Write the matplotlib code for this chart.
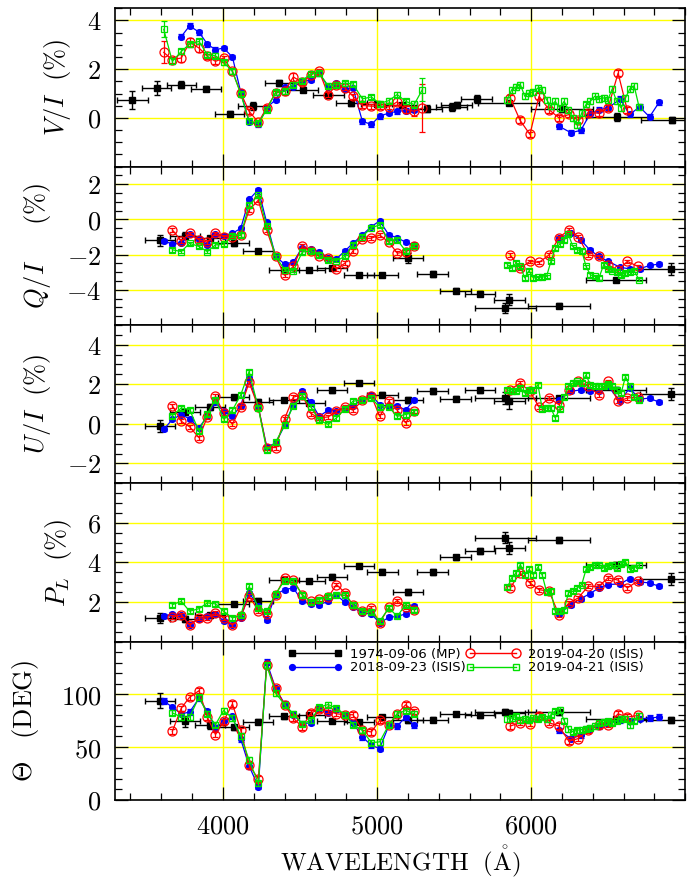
import numpy as np
import matplotlib
matplotlib.use("Agg")
import matplotlib.pyplot as plt
from matplotlib.ticker import FixedLocator, MultipleLocator, FuncFormatter
from matplotlib.lines import Line2D

nan = np.nan

plt.rcParams['mathtext.fontset'] = 'cm'
plt.rcParams['font.family'] = 'DejaVu Serif'

# ---------------- 1974-09-06, multichannel photometer (MP) ----------------
# circular polarization bins
mp_v_wl = [3412, 3571, 3730, 3890, 4043, 4198, 4366, 4519, 4685, 4833,
           4999, 5161, 5323, 5484, 5517, 5646, 5853, 6202, 6557, 6913]
mp_v_dwl = [100, 94, 95, 97, 97, 100, 96, 100, 100, 100,
            100, 100, 100, 100, 100, 100, 200, 200, 200, 200]
mp_v = [0.72, 1.23, 1.37, 1.19, 0.18, 0.49, 1.42, 1.16, 0.93, 0.60,
        0.57, 0.52, 0.38, 0.45, 0.53, 0.78, 0.61, 0.37, 0.04, -0.07]
mp_v_err = [0.37, 0.27, 0.15, 0.10, 0.10, 0.15, 0.13, 0.10, 0.13, 0.12,
            0.10, 0.10, 0.15, 0.15, 0.12, 0.15, 0.10, 0.12, 0.15, 0.12]

# linear polarization bins
mp_wl = [3590, 3752, 3914, 4069, 4230, 4394, 4560, 4709, 4883, 5034,
         5200, 5362, 5510, 5668, 5859, 5831, 6180, 6551, 6906]
mp_dwl = [98, 97, 97, 100, 97, 98, 100, 97, 100, 99,
          99, 100, 99, 98, 99, 198, 200, 197, 200]
mp_q = [-1.19, -0.94, -1.07, -1.36, -1.79, -2.88, -2.88, -2.77, -3.15, -3.18,
        -2.20, -3.11, -4.05, -4.22, -4.56, -5.03, -4.90, -3.43, -2.81]
mp_q_err = [0.30, 0.20, 0.15, 0.15, 0.12, 0.15, 0.12, 0.12, 0.12, 0.12,
            0.28, 0.15, 0.12, 0.15, 0.33, 0.30, 0.12, 0.12, 0.33]
mp_u = [-0.12, 0.62, 0.85, 1.34, 1.12, 1.20, 1.05, 1.69, 2.07, 1.47,
        1.22, 1.64, 1.27, 1.69, 1.17, 1.32, 1.30, 1.72, 1.52]
mp_u_err = [0.30, 0.15, 0.15, 0.12, 0.12, 0.12, 0.12, 0.12, 0.12, 0.12,
            0.15, 0.15, 0.12, 0.12, 0.42, 0.30, 0.12, 0.12, 0.30]
mp_p = [1.19, 1.16, 1.32, 1.90, 2.07, 3.11, 3.06, 3.27, 3.82, 3.52,
        2.51, 3.50, 4.26, 4.58, 4.73, 5.24, 5.12, 3.86, 3.15]
mp_p_err = [0.25, 0.15, 0.12, 0.12, 0.12, 0.15, 0.12, 0.12, 0.12, 0.12,
            0.15, 0.15, 0.12, 0.15, 0.30, 0.28, 0.15, 0.15, 0.30]
mp_th = [94.0, 74.3, 70.5, 68.7, 74.0, 79.0, 79.9, 74.6, 73.4, 78.4,
         75.5, 75.9, 81.5, 79.9, 82.5, 83.1, 82.8, 76.8, 75.9]
mp_th_err = [7, 5, 3, 2.5, 2.5, 2, 2, 2, 2, 2,
             2.5, 2.5, 2, 2, 3, 3, 2, 2, 3]

# ---------------- ISIS spectropolarimetry ----------------
# blue arm (shared by all three nights)
wl_blue = [3616, 3672, 3730, 3784, 3845, 3899, 3952, 4004, 4062, 4116,
           4170, 4230, 4284, 4342, 4400, 4457, 4515, 4571, 4625, 4683,
           4737, 4792, 4844, 4905, 4963, 5017, 5077, 5131, 5185, 5241]
wl_blue_v = wl_blue + [5294]
# red arm, per night
wl_red_0923 = [6180, 6258, 6322, 6380, 6440, 6500, 6578, 6638, 6704, 6768, 6830]
wl_red_0420 = [5864, 5928, 5992, 6051, 6116, 6180, 6245, 6305, 6370, 6439,
               6499, 6564, 6624, 6691]
wl_red_0421 = [5846, 5874, 5902, 5930, 5958, 5986, 6014, 6044, 6072, 6100,
               6128, 6156, 6186, 6214, 6242, 6270, 6300, 6328, 6356, 6384,
               6412, 6440, 6470, 6498, 6526, 6554, 6584, 6612, 6640, 6668, 6700]

# V/I (%)
v_0923_b = [nan, nan, 3.34, 3.78, 3.52, 3.03, 2.80, 2.87, 2.50, 1.05,
            -0.16, -0.27, 0.41, 0.75, 1.26, 1.27, 1.50, 1.57, 1.84, 1.27,
            1.43, 1.19, 1.23, -0.14, -0.27, 0.07, 0.20, 0.27, 0.30, 0.34, nan]
v_0923_r = [-0.34, -0.61, -0.51, 0.14, 0.34, 0.41, 0.78, 0.14, 0.45, 0.04, 0.64]
v_0420_b = [2.69, 2.39, 2.46, 3.10, 2.87, 2.53, 2.32, 2.46, 1.91, 1.02,
            0.27, -0.18, 0.41, 1.02, 1.09, 1.68, 1.46, 1.77, 1.91, 0.96,
            1.34, 1.23, 0.89, 0.51, 0.48, 0.48, 0.45, 0.66, 0.35, 0.27, 0.41]
v_0420_b_err = [0.45, 0.12, 0.15, 0.20, 0.15, 0.10, 0.10, 0.10, 0.10, 0.10,
                0.10, 0.10, 0.10, 0.10, 0.15, 0.15, 0.10, 0.10, 0.10, 0.10,
                0.10, 0.10, 0.10, 0.10, 0.10, 0.10, 0.10, 0.15, 0.15, 0.20, 0.97]
v_0420_r = [0.82, -0.10, -0.68, 0.89, 0.34, 0.00, 0.14, -0.10, 0.20, 0.20,
            0.41, 1.84, 0.31, nan]
v_0421_b = [3.64, 2.32, 2.73, 3.03, 3.14, 2.59, 2.55, 2.29, 1.91, 0.98,
            -0.14, -0.23, 0.34, 1.05, 1.09, 1.37, 1.53, 1.82, 1.84, 1.32,
            1.37, 1.43, 1.39, 0.78, 0.86, 0.59, 0.71, 0.96, 0.68, 0.55, 1.16]
v_0421_b_err = [0.33, 0.12, 0.10, 0.10, 0.10, 0.10, 0.10, 0.10, 0.10, 0.10,
                0.10, 0.10, 0.10, 0.10, 0.10, 0.10, 0.10, 0.10, 0.10, 0.10,
                0.10, 0.10, 0.10, 0.10, 0.10, 0.10, 0.10, 0.10, 0.10, 0.15, 0.47]
v_0421_r = [0.75, 1.16, 1.27, 1.37, 0.89, 1.02, 1.05, 1.23, 1.13, 0.75,
            0.48, 0.68, 0.41, 0.68, 0.34, 0.00, -0.31, 0.20, 0.55, 0.68,
            0.89, 0.78, 0.82, 0.75, 1.19, 0.68, 0.41, 0.82, 1.19, 1.32, 0.45]

# Q/I (%)
q_0923_b = [-1.22, -1.41, -1.36, -0.85, -1.11, -1.45, -0.85, -0.92, -0.79, -0.51,
            1.13, 1.69, -0.17, -2.11, -2.54, -2.43, -1.60, -1.69, -1.86, -2.17,
            -2.24, -1.79, -1.36, -0.89, -0.41, -0.09, -0.89, -1.04, -1.30, -1.45]
q_0923_r = [-1.07, -0.79, -1.17, -1.73, -2.11, -2.39, -2.73, -2.81, -2.81, -2.62, -2.54]
q_0420_b = [nan, -0.60, -1.22, -0.79, -1.17, -1.30, -0.79, -0.98, -0.98, -0.89,
            0.53, 1.09, -0.60, -2.11, -3.18, -2.67, -1.51, -1.79, -2.11, -2.20,
            -2.81, -2.49, -1.79, -1.11, -1.07, -0.89, -1.30, -1.92, -1.86, -1.54]
q_0420_r = [-2.02, -2.77, -2.39, -2.45, -2.02, -1.04, -0.60, -0.98, -2.02, -2.11,
            -2.58, -2.90, -2.39, -2.67]
q_0421_b = [nan, -1.73, -1.83, -1.36, -1.54, -1.83, -1.45, -1.41, -0.92, -0.89,
            0.81, 1.37, -0.36, -2.11, -2.86, -2.92, -1.86, -1.79, -2.02, -2.30,
            -2.35, -2.11, -1.45, -0.98, -0.47, -0.32, -1.22, -1.17, -1.79, -1.49]
q_0421_r = [-2.58, -2.77, -2.49, -2.67, -3.33, -2.92, -3.33, -3.30, -3.28, -3.24,
            -2.39, -1.64, -1.41, -1.17, -0.85, -1.54, -1.73, -1.79, -2.67, -3.15,
            -3.24, -3.33, -2.58, -2.81, -2.92, -2.99, -3.15, -3.05, -2.99, -2.92, -3.43]

# U/I (%)
u_0923_b = [-0.28, 0.22, 0.47, 0.25, -0.20, 0.38, 1.09, 0.64, 0.38, 0.92,
            2.31, 0.85, -1.15, -0.99, -0.08, 0.97, 1.64, 1.09, 0.38, 0.69,
            0.64, 0.80, 0.92, 1.22, 1.47, 0.97, 0.89, 0.92, 0.69, 1.22]
u_0923_r = [1.22, 1.64, 1.72, 1.64, 1.64, 1.89, 1.14, 1.81, 1.25, 1.30, 1.09]
u_0420_b = [nan, 0.92, 0.13, -0.15, -0.70, 0.35, 1.39, 0.55, -0.03, 0.85,
            2.09, 0.85, -1.20, -1.20, 0.25, 1.35, 1.47, 0.52, 0.30, 0.35,
            0.64, 0.85, 0.69, 1.19, 1.42, 0.38, 1.14, 0.69, 0.05, 0.64]
u_0420_r = [1.72, 2.06, 1.64, 0.85, 1.30, 0.97, 1.72, 2.14, 1.89, 1.47,
            2.14, 1.14, 1.30, 1.35]
u_0421_b = [nan, 0.42, 0.80, 0.72, -0.37, 0.52, 1.22, 0.25, 0.69, 1.47,
            2.64, 0.80, -1.32, -0.92, -0.08, 0.92, 1.39, 0.85, 0.18, -0.03,
            0.30, 0.75, 1.14, 1.22, 1.30, 0.85, 0.85, 0.38, 0.47, 0.59]
u_0421_r = [1.72, 1.64, 1.64, 1.81, 1.56, 1.72, 1.72, 1.97, 0.75, 0.80,
            0.80, 0.30, 0.75, 1.35, 1.89, 2.06, 2.14, 2.06, 2.47, 1.97,
            1.89, 1.92, 1.89, 2.02, 1.89, 1.72, 1.56, 2.39, 1.89, 1.35, 1.22]

# P_L (%)
p_0923_b = [1.27, 1.39, 1.36, 0.85, 1.16, 1.27, 1.39, 1.05, 0.85, 1.19,
            2.46, 1.78, 1.11, 2.37, 2.62, 2.71, 2.03, 1.90, 1.86, 2.03,
            2.34, 1.98, 1.73, 1.44, 1.39, 0.94, 1.22, 1.27, 1.39, 1.78]
p_0923_r = [1.39, 1.86, 2.17, 2.41, 2.71, 2.88, 2.91, 3.18, 3.01, 2.96, 2.79]
p_0420_b = [nan, 1.22, 1.36, 0.82, 1.19, 1.19, 1.44, 1.19, 0.82, 1.27,
            2.29, 1.56, 1.39, 2.34, 3.22, 3.13, 2.34, 2.03, 2.17, 2.24,
            2.88, 2.46, 1.83, 1.53, 1.70, 0.94, 1.73, 2.07, 1.73, 1.61]
p_0420_r = [2.71, 3.47, 2.96, 2.62, 2.54, 1.36, 1.95, 2.20, 2.79, 2.79,
            3.22, 3.10, 2.71, 3.05]
p_0421_b = [nan, 1.86, 2.03, 1.53, 1.66, 1.95, 1.90, 1.53, 1.19, 1.32,
            2.79, 1.70, 1.53, 2.41, 3.08, 3.05, 2.37, 2.00, 2.12, 2.29,
            2.37, 2.34, 1.86, 1.53, 1.49, 1.02, 1.70, 1.27, 1.86, 1.61]
p_0421_r = [2.74, 3.22, 3.47, 3.89, 3.38, 3.64, 3.38, 3.76, 3.35, 2.51,
            2.54, 1.53, 1.56, 1.61, 2.46, 2.54, 2.71, 2.88, 3.64, 3.76,
            3.86, 3.89, 3.72, 3.81, 3.89, 3.69, 3.92, 4.03, 3.64, 3.72, 3.86]

# position angle (deg)
t_0923_b = [93.7, 87.8, 81.5, 83.1, 96.2, 83.7, 68.0, 74.3, 79.0, 57.4,
            32.0, 12.5, 130.7, 105.6, 90.9, 80.6, 72.1, 73.0, 86.8, 82.4,
            85.6, 80.6, 73.0, 59.6, 51.7, 48.6, 70.5, 69.9, 78.4, 70.5]
t_0923_r = [65.8, 58.0, 61.1, 67.4, 69.9, 72.1, 75.2, 74.3, 76.8, 77.4, 78.4]
t_0420_b = [nan, 64.9, 86.8, 97.2, 103.4, 78.4, 61.8, 74.3, 90.9, 65.8,
            32.9, 19.7, 127.6, 105.6, 90.0, 77.4, 69.0, 82.4, 85.6, 84.6,
            81.5, 80.6, 80.6, 65.8, 64.3, 75.2, 71.2, 81.5, 90.0, 83.7]
t_0420_r = [69.9, 73.0, 72.1, 79.3, 73.0, 69.9, 55.5, 58.0, 65.8, 70.5,
            71.2, 81.5, 78.4, 79.9]
t_0421_b = [nan, 82.4, 78.4, 78.4, 97.2, 81.5, 71.2, 84.6, 77.4, 60.5,
            37.6, 15.7, 127.6, 101.3, 90.0, 81.5, 72.1, 75.2, 87.8, 90.3,
            86.8, 80.6, 71.2, 65.8, 54.2, 54.9, 71.2, 81.5, 84.6, 81.5]
t_0421_r = [76.5, 77.5, 79.0, 75.5, 77.0, 76.0, 77.5, 77.0, 78.0, 76.5,
            80.5, 84.0, 85.5, 75.0, 67.0, 64.5, 66.0, 66.5, 67.5, 68.5,
            70.0, 73.0, 73.5, 74.5, 73.0, 75.0, 76.5, 77.0, 70.5, 75.0, 79.5]

labels = ["1974-09-06 (MP)", "2018-09-23 (ISIS)",
          "2019-04-20 (ISIS)", "2019-04-21 (ISIS)"]

C_BLUE = '#0000ff'
C_RED = '#ff0000'
C_GREEN = '#00e000'
YELLOW = '#ffff00'

sty_0923 = dict(color=C_BLUE, marker='o', mfc=C_BLUE, mec=C_BLUE, ms=4.2, zorder=3)
sty_0420 = dict(color=C_RED, marker='o', mfc='none', mec=C_RED, ms=6.5, zorder=4)
sty_0421 = dict(color=C_GREEN, marker='s', mfc='none', mec=C_GREEN, ms=5.0, zorder=5)


def isis(ax, wl, val, err, sty):
    ax.errorbar(wl, val, yerr=err, lw=0.9, elinewidth=0.9, capsize=2.5,
                capthick=0.9, mew=0.9, **sty)


def mp(ax, wl, dwl, val, err):
    ax.errorbar(wl, val, xerr=dwl, yerr=err, fmt='s', color='k', ms=4.0,
                elinewidth=1.0, capsize=2.5, capthick=1.0, zorder=2)


fig = plt.figure(figsize=(6.97, 8.81), dpi=100)
W, H = 697.0, 881.0
x0, x1 = 115.0, 685.3
top, ph = 8.3, 158.3

# ylim, labelled ticks, minor step, label, label x (axes frac)
panels = [
    ((-2, 4.5), [0, 2, 4], 0.5, r'$V/I\ \ \mathrm{(\%)}$', -0.074),
    ((-6, 3), [-4, -2, 0, 2], 0.5, r'$Q/I\ \ \ \ \ \mathrm{(\%)}$', -0.108),
    ((-3, 5), [-2, 0, 2, 4], 0.5, r'$U/I\ \ \mathrm{(\%)}$', -0.108),
    ((0, 8), [2, 4, 6], 0.5, r'$P_L\ \ \mathrm{(\%)}$', -0.072),
    ((0, 150), [0, 50, 100], 10, r'$\Theta\ \ \ \mathrm{(DEG)}$', -0.130),
]

fmt = FuncFormatter(lambda v, p: '$%g$' % v)
axes = []
for k, (ylim, yt, ystep, ylab, lx) in enumerate(panels):
    b = 1 - (top + ph * (k + 1)) / H
    ax = fig.add_axes([x0 / W, b, (x1 - x0) / W, ph / H])
    ax.set_xlim(3300, 7000)
    ax.set_ylim(*ylim)
    ax.xaxis.set_major_locator(FixedLocator([4000, 5000, 6000]))
    ax.xaxis.set_minor_locator(MultipleLocator(200))
    ax.yaxis.set_major_locator(FixedLocator(yt))
    ax.yaxis.set_minor_locator(MultipleLocator(ystep))
    ax.yaxis.set_major_formatter(fmt)
    ax.xaxis.set_major_formatter(fmt)
    ax.tick_params(which='both', direction='in', top=True, right=True,
                   width=0.9, color='k', labelsize=19, pad=10)
    ax.tick_params(which='major', length=9.5)
    ax.tick_params(which='minor', length=4.8)
    if k < 4:
        ax.tick_params(labelbottom=False)
    for s in ax.spines.values():
        s.set_linewidth(1.2)
    for x in [4000, 5000, 6000]:
        ax.axvline(x, color=YELLOW, lw=1.0, zorder=0.5)
    for y in yt:
        ax.axhline(y, color=YELLOW, lw=1.0, zorder=0.5)
    ax.set_ylabel(ylab, fontsize=19)
    ax.yaxis.set_label_coords(lx, 0.5)
    axes.append(ax)

ax_v, ax_q, ax_u, ax_p, ax_t = axes

# V/I
mp(ax_v, mp_v_wl, mp_v_dwl, mp_v, mp_v_err)
isis(ax_v, wl_blue_v, v_0923_b, 0.1, sty_0923)
isis(ax_v, wl_red_0923, v_0923_r, 0.1, sty_0923)
isis(ax_v, wl_blue_v, v_0420_b, v_0420_b_err, sty_0420)
isis(ax_v, wl_red_0420, v_0420_r, 0.12, sty_0420)
isis(ax_v, wl_blue_v, v_0421_b, v_0421_b_err, sty_0421)
isis(ax_v, wl_red_0421, v_0421_r, 0.12, sty_0421)

# Q/I, U/I, P_L, position angle
rows = [
    (ax_q, mp_q, mp_q_err, q_0923_b, q_0923_r, q_0420_b, q_0420_r, q_0421_b, q_0421_r, 0.1),
    (ax_u, mp_u, mp_u_err, u_0923_b, u_0923_r, u_0420_b, u_0420_r, u_0421_b, u_0421_r, 0.1),
    (ax_p, mp_p, mp_p_err, p_0923_b, p_0923_r, p_0420_b, p_0420_r, p_0421_b, p_0421_r, 0.1),
    (ax_t, mp_th, mp_th_err, t_0923_b, t_0923_r, t_0420_b, t_0420_r, t_0421_b, t_0421_r, 2.5),
]
for ax, mv, me, b1, r1, b2, r2, b3, r3, e in rows:
    mp(ax, mp_wl, mp_dwl, mv, me)
    isis(ax, wl_blue, b1, e, sty_0923)
    isis(ax, wl_red_0923, r1, e, sty_0923)
    isis(ax, wl_blue, b2, e, sty_0420)
    isis(ax, wl_red_0420, r2, e, sty_0420)
    isis(ax, wl_blue, b3, e, sty_0421)
    isis(ax, wl_red_0421, r3, e, sty_0421)

ax_t.set_xlabel(r'$\mathrm{WAVELENGTH\ \ (\mathring{A})}$', fontsize=18)
ax_t.xaxis.set_label_coords(0.5, -0.275)

handles = [
    Line2D([], [], color='k', marker='s', ms=4.0, lw=1.0),
    Line2D([], [], color=C_BLUE, marker='o', ms=4.2, lw=1.0),
    Line2D([], [], color=C_RED, marker='o', mfc='none', ms=6.5, lw=1.0),
    Line2D([], [], color=C_GREEN, marker='s', mfc='none', ms=5.0, lw=1.0),
]
ax_t.legend(handles, labels, ncol=2, numpoints=2, loc='upper left',
            bbox_to_anchor=(0.303, 0.96), frameon=False, borderpad=0,
            borderaxespad=0, handlelength=4.1, handletextpad=0.6,
            columnspacing=0.0, labelspacing=0.05,
            prop=dict(family='DejaVu Sans', size=9.5))

fig.savefig('out.png', dpi=100)
